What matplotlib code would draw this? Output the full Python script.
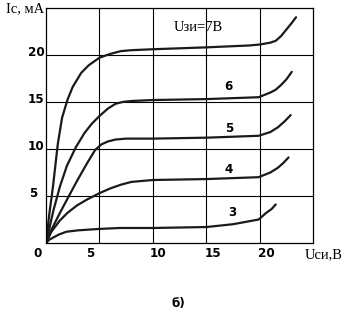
import matplotlib
matplotlib.use("Agg")
import matplotlib.pyplot as plt
from matplotlib import font_manager

# output characteristics Ic(Uси) for several Uзи
x7 = [0, 0.3, 0.65, 1.1, 1.5, 2.0, 2.5, 3.3, 4, 5, 6, 7, 8, 10, 15, 19, 20, 21, 21.5, 22, 22.5, 23, 23.4]
y7 = [0, 3.0, 6.0, 10.5, 13.3, 15.2, 16.6, 18.1, 18.9, 19.7, 20.1, 20.4, 20.5, 20.6, 20.8, 21.0, 21.1, 21.3, 21.5, 22.0, 22.7, 23.4, 24.0]

x6 = [0, 0.7, 1.3, 1.95, 2.8, 3.6, 4.3, 5.0, 5.8, 6.5, 7.2, 8, 10, 15, 19.9, 21, 21.5, 22, 22.5, 23.0]
y6 = [0, 3.5, 6.0, 8.2, 10.2, 11.7, 12.7, 13.5, 14.3, 14.8, 15.0, 15.1, 15.2, 15.3, 15.5, 16.0, 16.3, 16.8, 17.4, 18.2]

x5 = [0, 0.5, 1.3, 2.0, 2.9, 3.8, 4.6, 5.2, 5.8, 6.5, 7.5, 10, 15, 19.9, 21, 21.7, 22.3, 22.9]
y5 = [0, 1.4, 3.2, 4.7, 6.6, 8.4, 9.9, 10.5, 10.8, 11.0, 11.1, 11.1, 11.2, 11.4, 11.8, 12.3, 12.9, 13.6]

x4 = [0, 0.5, 1.3, 2.0, 2.9, 3.8, 5.0, 6.0, 7.0, 8.0, 10, 15, 19.9, 21, 21.7, 22.2, 22.7]
y4 = [0, 1.2, 2.4, 3.2, 4.0, 4.6, 5.3, 5.8, 6.2, 6.5, 6.7, 6.8, 7.0, 7.5, 8.0, 8.5, 9.1]

x3 = [0, 0.3, 0.7, 1.2, 1.9, 3.0, 5.0, 6.9, 10, 15, 17.5, 19.9, 20.6, 21.1, 21.5]
y3 = [0, 0.35, 0.6, 0.9, 1.2, 1.35, 1.5, 1.6, 1.6, 1.7, 2.0, 2.5, 3.2, 3.6, 4.1]

curve_labels = ["Uзи=7В", "6", "5", "4", "3"]
label_pos = [(14.3, 22.9), (17.1, 16.6), (17.1, 12.2), (17.1, 7.8), (17.4, 3.2)]

xtick_vals = [0, 5, 10, 15, 20]
ytick_vals = [5, 10, 15, 20]

names = {f.name for f in font_manager.fontManager.ttflist}
if "Liberation Sans Narrow" in names:
    num_font = dict(family=["Liberation Sans Narrow", "DejaVu Sans"], fontweight="bold", fontsize=10.5)
else:
    num_font = dict(family=["DejaVu Sans"], fontstretch="condensed", fontweight="bold", fontsize=9.5)
serif_font = dict(family=["Liberation Serif", "DejaVu Serif"], fontsize=10.5)

fig = plt.figure(figsize=(3.46, 3.14), dpi=100)
ax = fig.add_axes([0.133, 0.226, 0.772, 0.749])

for xs, ys in [(x7, y7), (x6, y6), (x5, y5), (x4, y4), (x3, y3)]:
    ax.plot(xs, ys, color="#1a1a1a", lw=1.6, solid_capstyle="round")

ax.set_xlim(0, 25)
ax.set_ylim(0, 25)
ax.set_xticks(xtick_vals[1:])
ax.set_yticks(ytick_vals)
ax.tick_params(length=0, labelbottom=False, labelleft=False)
ax.grid(True, color="black", lw=0.8)
for s in ax.spines.values():
    s.set_linewidth(0.9)
    s.set_color("black")

for i, txt in enumerate(curve_labels):
    x, y = label_pos[i]
    if i == 0:
        ax.text(x, y, txt, ha="center", va="center", **serif_font)
    else:
        ax.text(x, y, txt, ha="center", va="center", **num_font)

# tick labels (placed by hand, slightly offset like the original)
xlab_pos = [-0.75, 4.1, 10.5, 15.6, 20.6]
for v, p in zip(xtick_vals, xlab_pos):
    ax.text(p, -1.1, str(v), ha="center", va="center", **num_font)
for v in ytick_vals:
    xr = -0.85 if v == 5 else -0.15
    ax.text(xr, v + 0.3, str(v), ha="right", va="center", **num_font)

ax.text(-0.2, 24.9, "Iс, мА", ha="right", va="center", **serif_font)
ax.text(24.2, -1.2, "Uси,В", ha="left", va="center", clip_on=False, **serif_font)
fig.text(0.515, 0.035, "б)", ha="center", va="center", **dict(num_font, fontsize=9.5))

fig.savefig("out.png", dpi=100)
